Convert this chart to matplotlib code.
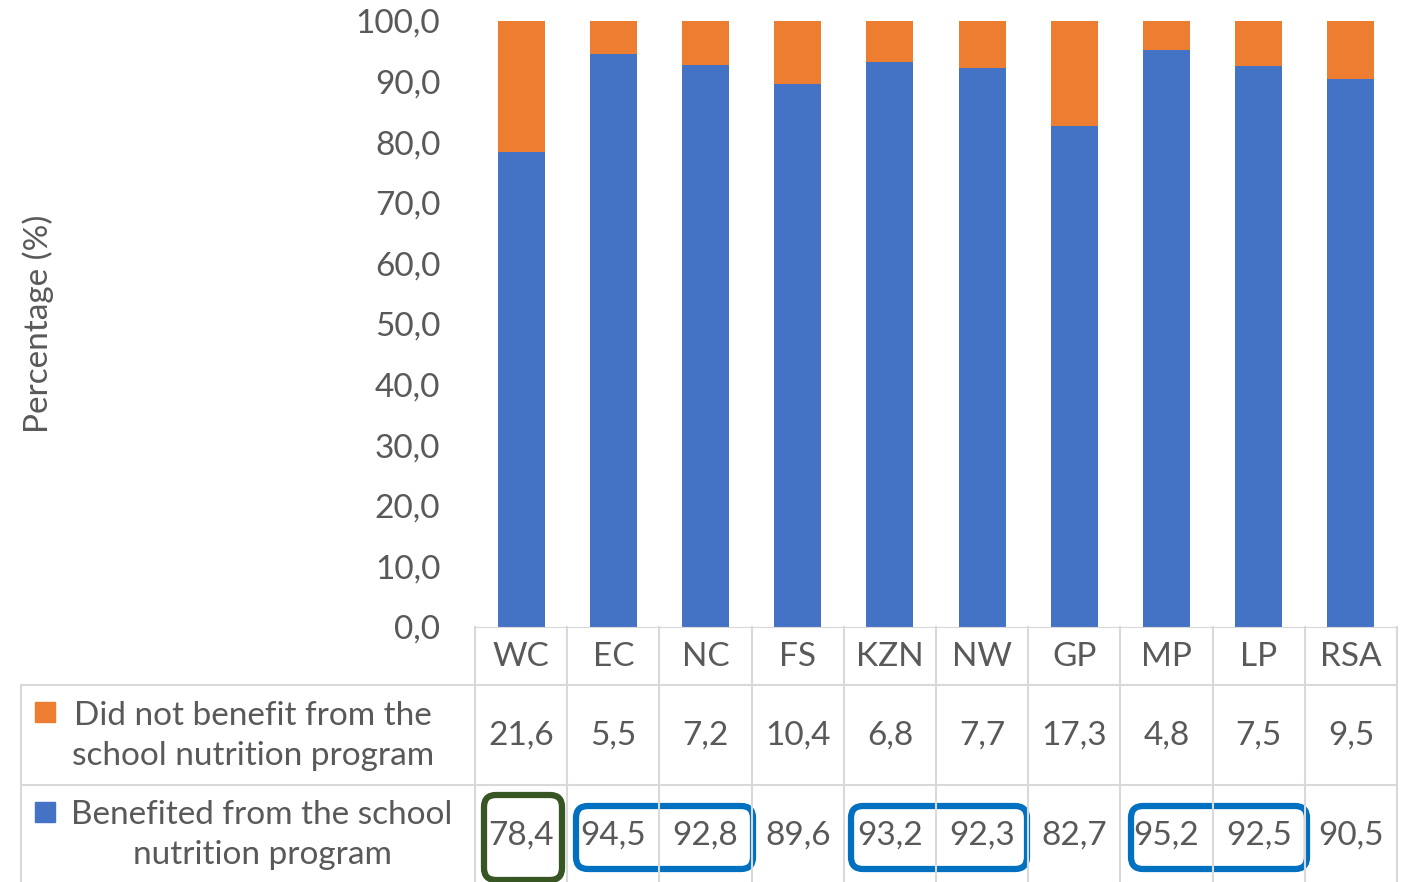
import numpy as np
import matplotlib.pyplot as plt
from matplotlib.patches import FancyBboxPatch, Rectangle

provinces = ["WC", "EC", "NC", "FS", "KZN", "NW", "GP", "MP", "LP", "RSA"]
benefited = [78.4, 94.5, 92.8, 89.6, 93.2, 92.3, 82.7, 95.2, 92.5, 90.5]
not_benefited = [21.6, 5.5, 7.2, 10.4, 6.8, 7.7, 17.3, 4.8, 7.5, 9.5]
row_labels = ["Did not benefit from the\nschool nutrition program",
              "Benefited from the school\nnutrition program"]

blue = "#4472c4"
orange = "#ed7d31"
txt = "#595959"
grid = "#d9d9d9"
fs = 24

plt.rcParams["font.family"] = ["Lato", "DejaVu Sans"]

W, H = 1407, 882
fig = plt.figure(figsize=(W / 100, H / 100), dpi=100)

# main chart area, in pixel terms: x 475..1397, y 21..627
x0, x1, ytop, ybot = 475, 1397, 21, 627
ax = fig.add_axes([x0 / W, 1 - ybot / H, (x1 - x0) / W, (ybot - ytop) / H])
x = np.arange(len(provinces))
ax.bar(x, benefited, width=0.51, color=blue)
ax.bar(x, not_benefited, width=0.51, bottom=benefited, color=orange)
ax.set_xlim(-0.5, len(provinces) - 0.5)
ax.set_ylim(0, 100)
ax.set_yticks(np.arange(0, 101, 10))
ax.set_yticklabels([f"{v:.1f}".replace(".", ",") for v in np.arange(0, 101, 10)],
                   fontsize=fs, color=txt)
ax.tick_params(axis="y", length=0, pad=25)
ax.set_xticks([])
for s in ["top", "right", "left"]:
    ax.spines[s].set_visible(False)
ax.spines["bottom"].set_color(grid)
ax.set_ylabel("Percentage (%)", fontsize=fs, color=txt)
ax.yaxis.set_label_coords(-0.457, 0.5)

# data table underneath, drawn on a pixel-space overlay
tb = fig.add_axes([0, 0, 1, 1])
tb.set_xlim(0, W)
tb.set_ylim(H, 0)
tb.axis("off")

edges = np.linspace(x0, x1, len(provinces) + 1)
centers = (edges[:-1] + edges[1:]) / 2
r1, r2, r3 = 627, 685, 785

lw = 1.5
for e in edges:
    tb.plot([e, e], [r1, H], color=grid, lw=lw)
tb.plot([21, 21], [r2, H], color=grid, lw=lw)
for r in (r2, r3):
    tb.plot([21, x1], [r, r], color=grid, lw=lw)

for c, p in zip(centers, provinces):
    tb.text(c, (r1 + r2) / 2 + 1, p, ha="center", va="center", fontsize=fs, color=txt)
for c, v in zip(centers, not_benefited):
    tb.text(c, (r2 + r3) / 2 + 1, f"{v:.1f}".replace(".", ","), ha="center", va="center",
            fontsize=fs, color=txt)
for c, v in zip(centers, benefited):
    tb.text(c, 836, f"{v:.1f}".replace(".", ","), ha="center", va="center",
            fontsize=fs, color=txt)

# row headers with legend keys
tb.add_patch(Rectangle((35, 702), 20, 20, color=orange))
tb.text(253, 736, row_labels[0], ha="center", va="center", fontsize=fs,
        color=txt, linespacing=1.45)
tb.add_patch(Rectangle((35, 802), 20, 20, color=blue))
tb.text(262, 835, row_labels[1], ha="center", va="center", fontsize=fs,
        color=txt, linespacing=1.45)

# highlight boxes
def box(xa, ya, xb, yb, color):
    tb.add_patch(FancyBboxPatch((xa, ya), xb - xa, yb - ya,
                                boxstyle="round,pad=0,rounding_size=12",
                                fill=False, ec=color, lw=4.5))

box(484, 795, 562, 880, "#375623")
box(576, 806, 753, 869, "#0070c0")
box(851, 806, 1027, 869, "#0070c0")
box(1131, 806, 1307, 869, "#0070c0")

fig.savefig("out.png", dpi=100)
